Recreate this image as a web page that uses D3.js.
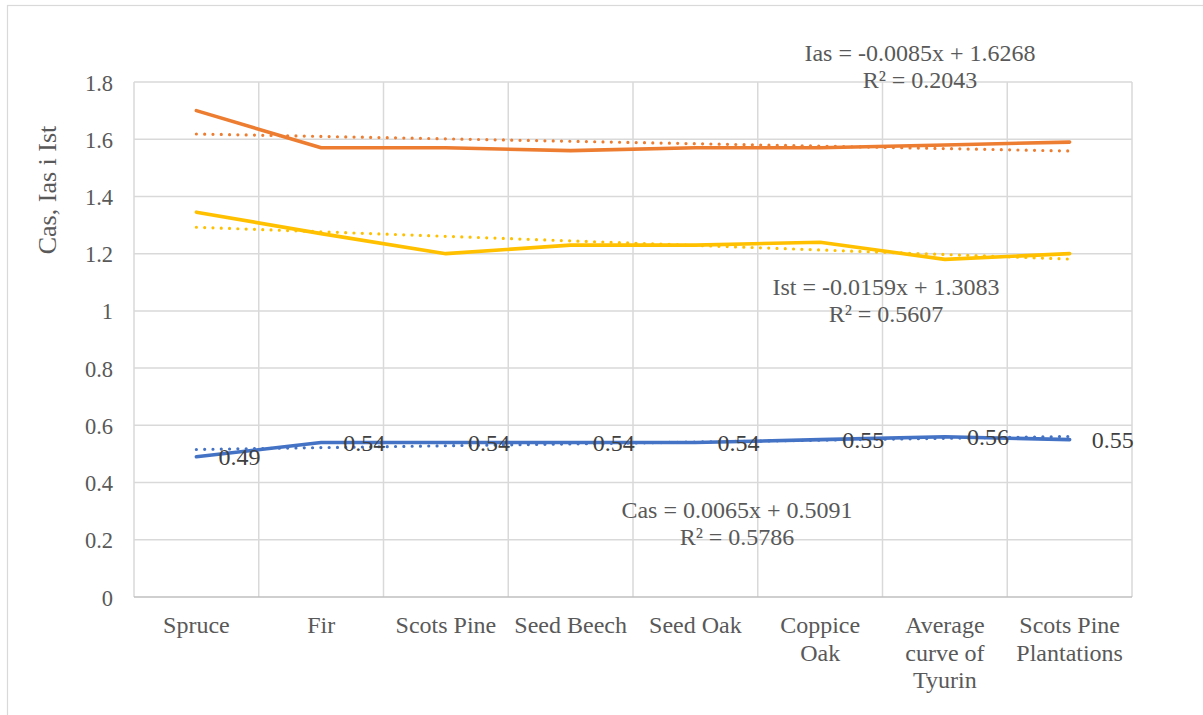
<!DOCTYPE html>
<html>
<head>
<meta charset="utf-8">
<script src="https://cdn.jsdelivr.net/npm/d3@7"></script>
<style>
  html, body { margin: 0; padding: 0; background: #fff; }
  svg { display: block; }
  text { font-family: "Liberation Serif", "Times New Roman", serif; }
</style>
</head>
<body>
<svg id="chart" width="1203" height="715"></svg>
<script>
// ---- data ----
const categories = ["Spruce", "Fir", "Scots Pine", "Seed Beech", "Seed Oak", "Coppice Oak", "Average curve of Tyurin", "Scots Pine Plantations"];
const seriesNames = ["Ias", "Ist", "Cas"];
const iasValues = [1.70, 1.57, 1.57, 1.56, 1.57, 1.57, 1.58, 1.59];
const istValues = [1.345, 1.27, 1.20, 1.23, 1.23, 1.24, 1.18, 1.20];
const casValues = [0.49, 0.54, 0.54, 0.54, 0.54, 0.55, 0.56, 0.55];
const casLabels = ["0.49", "0.54", "0.54", "0.54", "0.54", "0.55", "0.56", "0.55"];
const trendSlopes = [-0.0085, -0.0159, 0.0065];
const trendIntercepts = [1.6268, 1.3083, 0.5091];
const trendEquations = [
  ["Ias = -0.0085x + 1.6268", "R² = 0.2043"],
  ["Ist = -0.0159x + 1.3083", "R² = 0.5607"],
  ["Cas = 0.0065x + 0.5091", "R² = 0.5786"]
];
const yTicks = [0, 0.2, 0.4, 0.6, 0.8, 1, 1.2, 1.4, 1.6, 1.8];
const yTitle = "Cas, Ias i Ist";

// ---- styles / layout ----
const colors = ["#ED7D31", "#FFC000", "#4472C4"];
const plot = { left: 134, right: 1132, top: 82, bottom: 597 };
// equation label anchor positions (center x, first baseline y)
const eqPos = [[920, 61], [886, 295], [737, 518]];

const svg = d3.select("#chart");

// outer chart border (only top/left visible, cropped image)
svg.append("rect")
  .attr("x", 7.5).attr("y", 5.5).attr("width", 1400).attr("height", 900)
  .attr("fill", "none").attr("stroke", "#d9d9d9").attr("stroke-width", 1.2);

const x = d3.scaleBand().domain(categories).range([plot.left, plot.right]).padding(0);
const y = d3.scaleLinear().domain([0, 1.8]).range([plot.bottom, plot.top]);
const xc = c => x(c) + x.bandwidth() / 2;

// horizontal gridlines
svg.append("g").selectAll("line").data(yTicks.filter(d => d > 0)).join("line")
  .attr("x1", plot.left).attr("x2", plot.right)
  .attr("y1", d => y(d)).attr("y2", d => y(d))
  .attr("stroke", "#d9d9d9").attr("stroke-width", 1.5);

// vertical gridlines at band boundaries
const bounds = categories.map(c => x(c)).concat([plot.right]);
svg.append("g").selectAll("line").data(bounds).join("line")
  .attr("x1", d => d).attr("x2", d => d)
  .attr("y1", plot.top).attr("y2", plot.bottom)
  .attr("stroke", "#d9d9d9").attr("stroke-width", 1.5);

// x axis baseline
svg.append("line")
  .attr("x1", plot.left).attr("x2", plot.right)
  .attr("y1", plot.bottom).attr("y2", plot.bottom)
  .attr("stroke", "#bfbfbf").attr("stroke-width", 1.5);

// y axis ticks labels
const yAxis = d3.axisLeft(y).tickValues(yTicks).tickSize(0).tickPadding(0)
  .tickFormat(d => String(d));
const gy = svg.append("g").attr("transform", `translate(113,0)`).call(yAxis);
gy.select(".domain").remove();
gy.selectAll("text")
  .attr("font-family", "Liberation Serif, Times New Roman, serif")
  .attr("font-size", 22.5).attr("fill", "#595959")
  .attr("dy", "0.36em");

// y axis title
svg.append("text")
  .attr("transform", `translate(56,190) rotate(-90)`)
  .attr("text-anchor", "middle")
  .attr("font-size", 26).attr("fill", "#595959")
  .text(yTitle);

// x axis category labels with wrapping
const xAxis = d3.axisBottom(x).tickSize(0).tickPadding(0);
const gx = svg.append("g").attr("transform", `translate(0,${plot.bottom})`).call(xAxis);
gx.select(".domain").remove();
gx.selectAll("text").remove();
const maxW = x.bandwidth() - 6;
gx.selectAll(".tick").each(function(d) {
  const t = d3.select(this).append("text")
    .attr("text-anchor", "middle")
    .attr("font-family", "Liberation Serif, Times New Roman, serif")
    .attr("font-size", 24).attr("fill", "#595959")
    .attr("y", 36);
  const words = d.split(" ");
  let lines = [], cur = [];
  const tmp = t.append("tspan");
  words.forEach(w => {
    const trial = cur.concat([w]).join(" ");
    tmp.text(trial);
    if (tmp.node().getComputedTextLength() > maxW && cur.length) {
      lines.push(cur.join(" "));
      cur = [w];
    } else {
      cur.push(w);
    }
  });
  if (cur.length) lines.push(cur.join(" "));
  tmp.remove();
  lines.forEach((ln, i) => {
    t.append("tspan").attr("x", 0).attr("dy", i === 0 ? 0 : 27.5).text(ln);
  });
});

// series lines
const allValues = [iasValues, istValues, casValues];
const line = d3.line().x(d => xc(d.c)).y(d => y(d.v));
allValues.forEach((vals, i) => {
  const pts = categories.map((c, j) => ({ c, v: vals[j] }));
  // trendline
  const tpts = categories.map((c, j) => ({ c, v: trendIntercepts[i] + trendSlopes[i] * (j + 1) }));
  svg.append("path").datum(tpts)
    .attr("d", line).attr("fill", "none")
    .attr("stroke", colors[i]).attr("stroke-width", 3.2)
    .attr("stroke-linecap", "round").attr("stroke-dasharray", "0 8.3");
  svg.append("path").datum(pts)
    .attr("d", line).attr("fill", "none")
    .attr("stroke", colors[i]).attr("stroke-width", 3.6)
    .attr("stroke-linejoin", "round").attr("stroke-linecap", "round");
});

// data labels for Cas
svg.append("g").selectAll("text").data(categories).join("text")
  .attr("x", c => xc(c) + 22)
  .attr("y", (c, j) => y(casValues[j]) + 8.5)
  .attr("font-size", 24).attr("fill", "#404040")
  .text((c, j) => casLabels[j]);

// trendline equations
trendEquations.forEach((lines, i) => {
  const t = svg.append("text")
    .attr("text-anchor", "middle")
    .attr("font-size", 24).attr("fill", "#595959");
  lines.forEach((ln, k) => {
    t.append("tspan").attr("x", eqPos[i][0]).attr("y", eqPos[i][1] + k * 27).text(ln);
  });
});
</script>
</body>
</html>
